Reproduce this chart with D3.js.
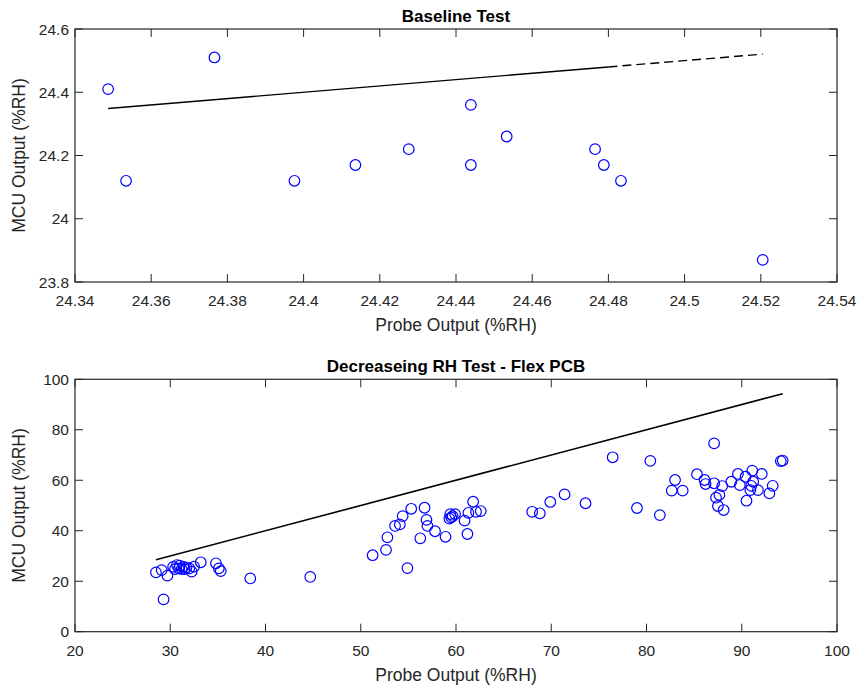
<!DOCTYPE html>
<html><head><meta charset="utf-8">
<script src="https://cdn.jsdelivr.net/npm/d3@7"></script>
<style>body{margin:0;background:#fff}svg{display:block}text{font-family:"Liberation Sans",Arial,sans-serif}</style>
</head><body><svg id="c" width="863" height="690"></svg>
<script>
// ---- Baseline Test data ----
const baseProbe = [24.3487,24.3534,24.3766,24.3976,24.4136,24.4276,24.4439,24.4439,24.4533,24.4765,24.4788,24.4833,24.5205];
const baseMCU   = [24.41,24.12,24.51,24.12,24.17,24.22,24.36,24.17,24.26,24.22,24.17,24.12,23.87];
const baseXTicks = [24.34,24.36,24.38,24.4,24.42,24.44,24.46,24.48,24.5,24.52,24.54];
const baseYTicks = [23.8,24,24.2,24.4,24.6];
const baseSolidEnd = 24.48;

// ---- Decreasing RH Test data ----
const flexProbe = [28.5,29.1,29.7,29.3,30.3,30.7,31.0,31.4,31.7,30.5,30.9,31.2,31.5,32.0,32.25,32.5,33.2,34.8,35.1,35.3,38.4,44.7,
  51.25,52.65,52.8,54.9,53.6,54.1,54.4,55.3,56.7,56.9,57.0,57.8,56.25,58.9,59.4,59.5,59.9,59.3,59.65,60.9,61.2,61.3,61.8,62.1,62.6,
  68.0,68.8,69.9,71.4,73.6,76.45,79.0,80.4,81.4,87.1,83.0,82.65,83.8,85.3,86.1,86.2,87.1,87.95,87.3,87.65,87.5,88.1,88.9,89.6,89.8,90.4,90.5,91.1,91.2,90.9,91.0,91.7,92.1,92.9,93.25,94.1,94.3];
const flexMCU = [23.5,24.4,22.2,12.8,25.7,26.4,26.2,25.7,25.4,24.8,25.1,24.8,24.8,25.1,23.8,25.8,27.5,27.1,25.1,24.0,21.1,21.7,
  30.3,32.4,37.4,25.2,41.9,42.5,45.8,48.7,49.1,44.3,41.9,39.8,37.0,37.6,46.6,45.3,46.6,44.8,45.8,44.0,38.7,47.1,51.5,47.5,47.8,
  47.5,46.9,51.4,54.4,50.9,69.1,49.0,67.7,46.2,74.6,60.1,55.9,55.9,62.4,60.1,58.5,58.8,57.7,53.1,54.2,49.8,48.2,59.4,62.5,58.1,61.4,51.9,63.8,59.4,56.1,57.8,56.1,62.5,54.8,57.8,67.6,67.8];
const flexXTicks = [20,30,40,50,60,70,80,90,100];
const flexYTicks = [0,20,40,60,80,100];

const svg = d3.select("#c");
const fmt = d => String(+d.toFixed(4));

function panel(cfg){
  const {top,bottom,left,right,xDom,yDom,xTicks,yTicks,title,xs,ys,solidEnd} = cfg;
  const x = d3.scaleLinear().domain(xDom).range([left,right]);
  const y = d3.scaleLinear().domain(yDom).range([bottom,top]);
  const g = svg.append("g");
  const axisColor = "#262626", tl = 8, fs = 15.5;
  xTicks.forEach(t=>{
    g.append("line").attr("x1",x(t)).attr("x2",x(t)).attr("y1",bottom).attr("y2",bottom-tl).attr("stroke",axisColor);
    g.append("line").attr("x1",x(t)).attr("x2",x(t)).attr("y1",top).attr("y2",top+tl).attr("stroke",axisColor);
    g.append("text").attr("x",x(t)).attr("y",bottom+24).attr("text-anchor","middle").attr("font-size",fs).attr("fill",axisColor).text(fmt(t));
  });
  yTicks.forEach(t=>{
    g.append("line").attr("y1",y(t)).attr("y2",y(t)).attr("x1",left).attr("x2",left+tl).attr("stroke",axisColor);
    g.append("line").attr("y1",y(t)).attr("y2",y(t)).attr("x1",right).attr("x2",right-tl).attr("stroke",axisColor);
    g.append("text").attr("x",left-6).attr("y",y(t)+5.5).attr("text-anchor","end").attr("font-size",fs).attr("fill",axisColor).text(fmt(t));
  });
  g.append("rect").attr("x",left).attr("y",top).attr("width",right-left).attr("height",bottom-top)
    .attr("fill","none").attr("stroke",axisColor).attr("stroke-width",1.2);
  const [mn,mx] = d3.extent(xs);
  const line = d3.line().x(d=>x(d)).y(d=>y(d));
  if(solidEnd!==undefined){
    g.append("path").attr("d",line([mn,solidEnd])).attr("stroke","#000").attr("stroke-width",1.4).attr("fill","none");
    g.append("path").attr("d",line([solidEnd,mx])).attr("stroke","#000").attr("stroke-width",1.4).attr("fill","none").attr("stroke-dasharray","9,5");
  } else {
    g.append("path").attr("d",line([mn,mx])).attr("stroke","#000").attr("stroke-width",1.6).attr("fill","none");
  }
  g.selectAll("circle").data(xs.map((v,i)=>[v,ys[i]])).join("circle")
    .attr("cx",d=>x(d[0])).attr("cy",d=>y(d[1])).attr("r",5.3)
    .attr("fill","none").attr("stroke","#0000ff").attr("stroke-width",1.2);
  g.append("text").attr("x",(left+right)/2).attr("y",top-7.5).attr("text-anchor","middle").attr("font-size",17).attr("font-weight","bold").attr("fill","#000").text(title);
  g.append("text").attr("x",(left+right)/2).attr("y",bottom+49).attr("text-anchor","middle").attr("font-size",17.5).attr("fill",axisColor).text("Probe Output (%RH)");
  g.append("text").attr("transform",`translate(25,${(top+bottom)/2}) rotate(-90)`).attr("text-anchor","middle").attr("font-size",17.5).attr("fill",axisColor).text("MCU Output (%RH)");
}

panel({top:29,bottom:282,left:75,right:837,xDom:[24.34,24.54],yDom:[23.8,24.6],xTicks:baseXTicks,yTicks:baseYTicks,
  title:"Baseline Test",xs:baseProbe,ys:baseMCU,solidEnd:baseSolidEnd});
panel({top:379.3,bottom:631.7,left:75,right:837,xDom:[20,100],yDom:[0,100],xTicks:flexXTicks,yTicks:flexYTicks,
  title:"Decreaseing RH Test - Flex PCB",xs:flexProbe,ys:flexMCU});
</script></body></html>
